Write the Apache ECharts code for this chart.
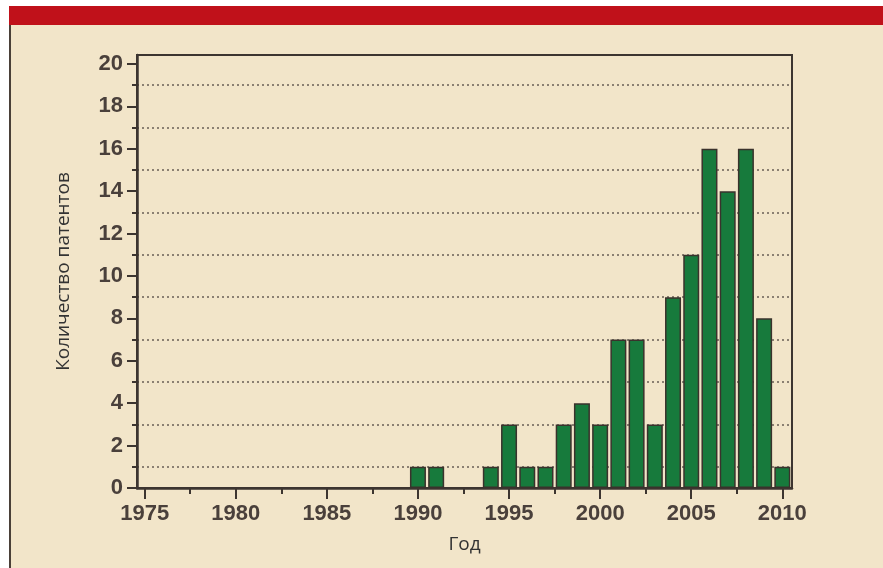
<!DOCTYPE html>
<html>
<head>
<meta charset="utf-8">
<script src="https://cdn.jsdelivr.net/npm/echarts@6/dist/echarts.min.js"></script>
<style>
  html, body { margin: 0; padding: 0; background: #ffffff; }
  #patents { width: 883px; height: 568px; }
</style>
</head>
<body>
<div id="patents"></div>
<script>
// patents per year
const years = [1990, 1991, 1994, 1995, 1996, 1997, 1998, 1999, 2000, 2001,
  2002, 2003, 2004, 2005, 2006, 2007, 2008, 2009, 2010];
const counts = [1, 1, 1, 3, 1, 1, 3, 4, 3, 7, 7, 3, 9, 11, 16, 14, 16, 8, 1];

const yearTicks = [1975, 1980, 1985, 1990, 1995, 2000, 2005, 2010];
const yearMinorTicks = [1977.5, 1982.5, 1987.5, 1992.5, 1997.5, 2002.5, 2007.5];
const countTicks = [0, 2, 4, 6, 8, 10, 12, 14, 16, 18, 20];
const countMinorTicks = [1, 3, 5, 7, 9, 11, 13, 15, 17, 19];

const axisColor = "#3d3530";
const labelStyle = {
  color: "#4a403b",
  fontFamily: "Liberation Sans",
  fontWeight: "bold",
  fontSize: 22
};

const chart = echarts.init(document.getElementById("patents"), null, { renderer: "canvas" });

const option = {
  animation: false,
  backgroundColor: "transparent",
  graphic: [
    { type: "rect", z: -10, shape: { x: 9, y: 6, width: 874, height: 19 }, style: { fill: "#c0111a" } },
    { type: "rect", z: -10, shape: { x: 9, y: 25, width: 874, height: 543 }, style: { fill: "#f2e5c9" } },
    { type: "rect", z: -9, shape: { x: 9, y: 25, width: 2, height: 543 }, style: { fill: "#4a4038" } }
  ],
  grid: {
    left: 137,
    right: 91,
    top: 55,
    bottom: 80,
    show: true,
    backgroundColor: "transparent",
    borderColor: axisColor,
    borderWidth: 2
  },
  xAxis: [
    {
      type: "value",
      min: 1974.58,
      max: 2010.53,
      name: "Год",
      nameLocation: "middle",
      nameGap: 47,
      nameTextStyle: { color: "#333333", fontFamily: "Open Sans", fontSize: 19 },
      axisLine: { show: true, lineStyle: { color: axisColor, width: 2.5 } },
      axisTick: { show: true, customValues: yearTicks, length: 11, lineStyle: { color: axisColor, width: 2 } },
      axisLabel: Object.assign({ customValues: yearTicks, margin: 15, formatter: (v) => String(v) }, labelStyle),
      splitLine: { show: false }
    },
    {
      type: "value",
      position: "bottom",
      min: 1974.58,
      max: 2010.53,
      axisLine: { show: false },
      axisTick: { show: true, customValues: yearMinorTicks, length: 6, lineStyle: { color: axisColor, width: 2 } },
      axisLabel: { show: false },
      splitLine: { show: false }
    }
  ],
  yAxis: [
    {
      type: "value",
      min: 0,
      max: 20.42,
      name: "Количество патентов",
      nameLocation: "middle",
      nameGap: 64,
      nameTextStyle: { color: "#333333", fontFamily: "Open Sans", fontSize: 19 },
      axisLine: { show: true, lineStyle: { color: axisColor, width: 2.5 } },
      axisTick: { show: true, customValues: countTicks, length: 10, lineStyle: { color: axisColor, width: 2 } },
      axisLabel: Object.assign({ customValues: countTicks, margin: 14 }, labelStyle),
      splitLine: { show: false }
    },
    {
      type: "value",
      position: "left",
      min: 0,
      max: 20.42,
      axisLine: { show: false },
      axisTick: { show: true, customValues: countMinorTicks, length: 5, lineStyle: { color: axisColor, width: 2 } },
      axisLabel: { show: false },
      splitLine: { show: true, lineStyle: { color: "#6a5f55", width: 1.5, type: [2, 3] } }
    }
  ],
  series: [
    {
      type: "bar",
      xAxisIndex: 0,
      yAxisIndex: 0,
      barWidth: 16,
      z: 3,
      itemStyle: { color: "#177a3c", borderColor: "#3a322c", borderWidth: 1.5 },
      data: years.map((y, i) => [y, counts[i]])
    }
  ]
};

chart.setOption(option);
</script>
</body>
</html>
